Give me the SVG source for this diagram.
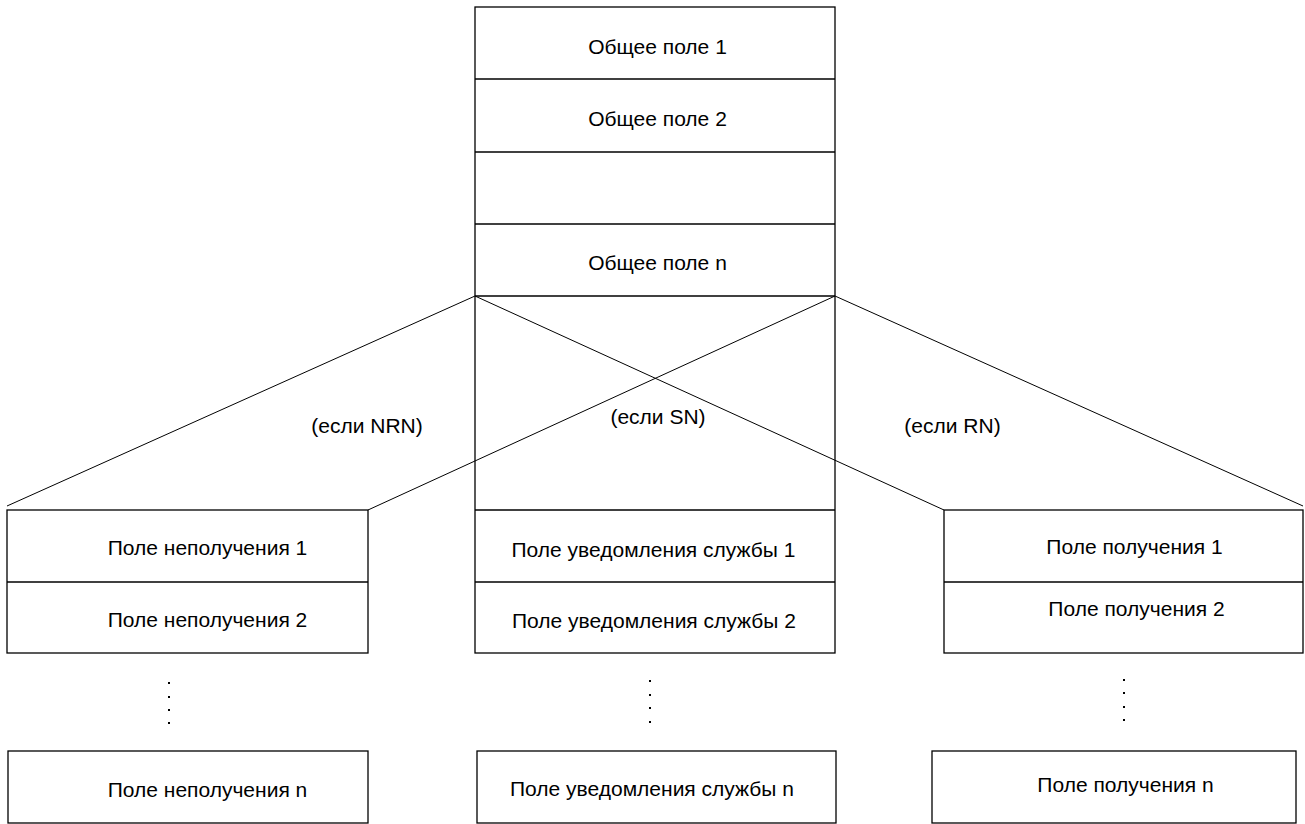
<svg xmlns="http://www.w3.org/2000/svg" width="1305" height="824" viewBox="0 0 1305 824">
<style>
.box{fill:#fff;stroke:#000;stroke-width:1.3}
.sep{stroke:#000;stroke-width:1.3}
.con{stroke:#000;stroke-width:1;fill:none}
text{font-family:"Liberation Sans",Arial,sans-serif;font-size:21px;fill:#000;text-anchor:middle}
.dot{fill:#000}
</style>
<rect width="1305" height="824" fill="#fff"/>
<g id="common">
<rect class="box" x="475" y="7" width="360" height="646"/>
<line class="sep" x1="475" y1="79" x2="835" y2="79"/>
<line class="sep" x1="475" y1="152" x2="835" y2="152"/>
<line class="sep" x1="475" y1="224" x2="835" y2="224"/>
<line class="sep" x1="475" y1="296" x2="835" y2="296"/>
<text x="657.5" y="54">Общее поле 1</text>
<text x="657.5" y="126">Общее поле 2</text>
<text x="657.5" y="270">Общее поле n</text>
</g>
<g id="sn">
<line class="sep" x1="475" y1="510" x2="835" y2="510"/>
<line class="sep" x1="475" y1="582" x2="835" y2="582"/>
<text x="653.5" y="557">Поле уведомления службы 1</text>
<text x="654" y="628">Поле уведомления службы 2</text>
<rect class="dot" x="649" y="680" width="2" height="2"/>
<rect class="dot" x="649" y="694" width="2" height="2"/>
<rect class="dot" x="649" y="707" width="2" height="2"/>
<rect class="dot" x="649" y="721" width="2" height="2"/>
</g>
<g id="sn-n">
<rect class="box" x="477" y="751" width="359" height="72"/>
<text x="652" y="796">Поле уведомления службы n</text>
</g>
<g id="nrn">
<rect class="box" x="7" y="510" width="361" height="143"/>
<line class="sep" x1="7" y1="582" x2="368" y2="582"/>
<text x="207.5" y="555">Поле неполучения 1</text>
<text x="207.5" y="627">Поле неполучения 2</text>
<rect class="dot" x="168" y="682" width="2" height="2"/>
<rect class="dot" x="168" y="696" width="2" height="2"/>
<rect class="dot" x="168" y="709" width="2" height="2"/>
<rect class="dot" x="168" y="722" width="2" height="2"/>
</g>
<g id="nrn-n">
<rect class="box" x="8" y="751" width="360" height="72"/>
<text x="207.5" y="797">Поле неполучения n</text>
</g>
<g id="rn">
<rect class="box" x="944" y="510" width="359" height="143"/>
<line class="sep" x1="944" y1="582" x2="1303" y2="582"/>
<text x="1134.5" y="554">Поле получения 1</text>
<text x="1136.5" y="616">Поле получения 2</text>
<rect class="dot" x="1123" y="679" width="2" height="2"/>
<rect class="dot" x="1123" y="692" width="2" height="2"/>
<rect class="dot" x="1123" y="706" width="2" height="2"/>
<rect class="dot" x="1123" y="719" width="2" height="2"/>
</g>
<g id="rn-n">
<rect class="box" x="932" y="751" width="364" height="72"/>
<text x="1125.5" y="792">Поле получения n</text>
</g>
<g id="connectors">
<line class="con" x1="475" y1="296" x2="7" y2="506"/>
<line class="con" x1="835" y1="296" x2="368" y2="510"/>
<line class="con" x1="475" y1="296" x2="944" y2="510"/>
<line class="con" x1="835" y1="296" x2="1303" y2="506"/>
</g>
<g id="labels">
<text x="367" y="433">(если NRN)</text>
<text x="658" y="424">(если SN)</text>
<text x="952.5" y="433">(если RN)</text>
</g>
</svg>
